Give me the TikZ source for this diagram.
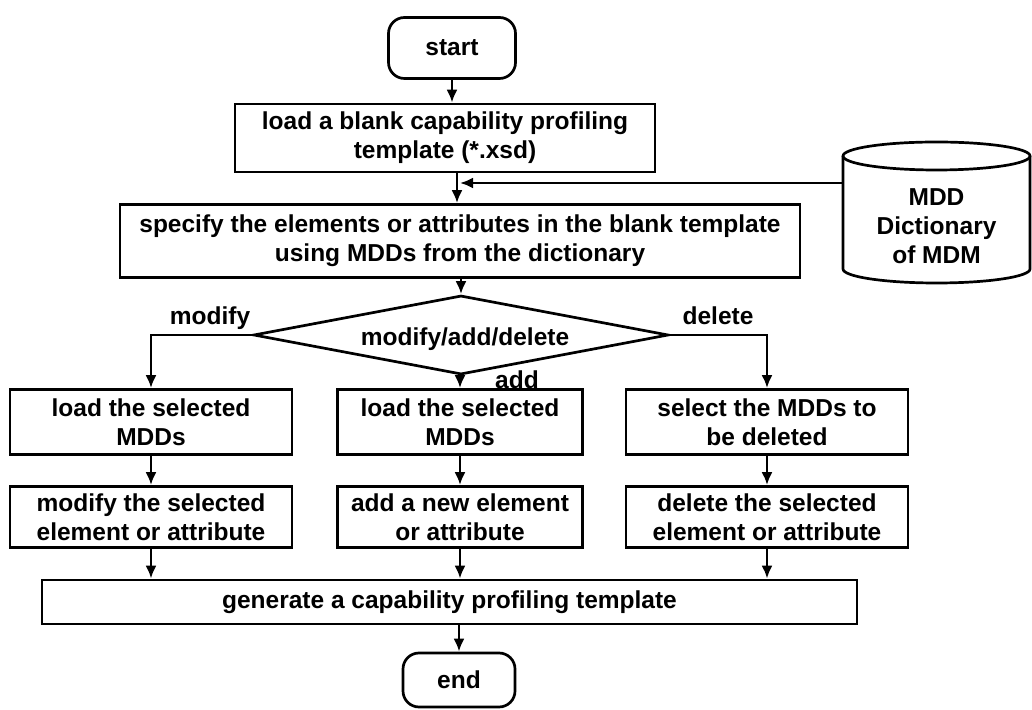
\documentclass[tikz,border=0pt]{standalone}
\usepackage{fontspec}
\setmainfont{Liberation Sans}
\usetikzlibrary{shapes.geometric,arrows.meta}
\begin{document}
\begin{tikzpicture}[x=1pt,y=1pt,
  every node/.style={font=\fontsize{24.5}{29}\selectfont\bfseries, align=center},
  ln/.style={line width=2.7pt},
  box/.style={draw, ln, inner sep=1pt},
  term/.style={draw, ln, rounded corners=16pt, inner sep=1pt},
  arr/.style={ln, -{Latex[length=13pt,width=11pt]}},
  lbl/.style={inner sep=0pt}]
\useasboundingbox (0,0) rectangle (1032,709);
\node[term, minimum width=127, minimum height=61] (start) at (452,661) {start};
\node[box, minimum width=420, minimum height=68] (load) at (445,571) {load a blank capability profiling\\template (*.xsd)};
\node[box, minimum width=680, minimum height=73] (spec) at (460,468) {specify the elements or attributes in the blank template\\using MDDs from the dictionary};
\node[draw, ln, diamond, minimum width=415, minimum height=79, inner sep=0pt] (dec) at (461,374) {};
\node[lbl] (dectxt) at (465,370) {modify/add/delete};
\node[box, minimum width=282, minimum height=65] (l1) at (151,287) {load the selected\\MDDs};
\node[box, minimum width=245, minimum height=65] (m1) at (460,287) {load the selected\\MDDs};
\node[box, minimum width=282, minimum height=65] (r1) at (767,287) {select the MDDs to\\be deleted};
\node[box, minimum width=282, minimum height=61] (l2) at (151,192) {modify the selected\\element or attribute};
\node[box, minimum width=245, minimum height=61] (m2) at (460,192) {add a new element\\or attribute};
\node[box, minimum width=282, minimum height=61] (r2) at (767,192) {delete the selected\\element or attribute};
\node[box, minimum width=815, minimum height=44] (gen) at (449.5,107) {generate a capability profiling template};
\node[term, minimum width=112, minimum height=54] (end) at (459,29) {end};
% database cylinder
\coordinate (dbtl) at (843,553);
\coordinate (dbtr) at (1030,553);
\coordinate (dbbl) at (843,440);
\coordinate (dbbr) at (1030,440);
\draw[ln] (936.5,553) ellipse[x radius=93.5pt, y radius=14pt];
\draw[ln] (dbtl) -- (dbbl) arc[start angle=180, end angle=360, x radius=93.5pt, y radius=14pt] -- (dbtr);
\node[lbl] (db) at (936.5,483) {MDD\\Dictionary\\of MDM};
\coordinate (jn) at (457,526);
\coordinate (dbin) at (843,526);
% connectors
\draw[arr] (start.south) -- (start.south |- load.north);
\draw[arr] (load.south -| jn) -- (spec.north -| jn);
\draw[arr] (dbin) -- ([xshift=3pt]jn);
\draw[arr] (spec.south -| dec.north) -- (dec.north);
\draw[arr] (dec.west) -| (l1.north);
\draw[arr] (dec.east) -| (r1.north);
\draw[arr] (dec.south -| m1.north) -- (m1.north);
\draw[arr] (l1) -- (l2);
\draw[arr] (m1) -- (m2);
\draw[arr] (r1) -- (r2);
\draw[arr] (l2.south) -- (l2.south |- gen.north);
\draw[arr] (m2.south) -- (m2.south |- gen.north);
\draw[arr] (r2.south) -- (r2.south |- gen.north);
\draw[arr] (gen.south -| end.north) -- (end.north);
\node[lbl] (lmod) at (210,391) {modify};
\node[lbl] (ldel) at (718,393) {delete};
\node[lbl] (ladd) at (517,329) {add};
\end{tikzpicture}
\end{document}
